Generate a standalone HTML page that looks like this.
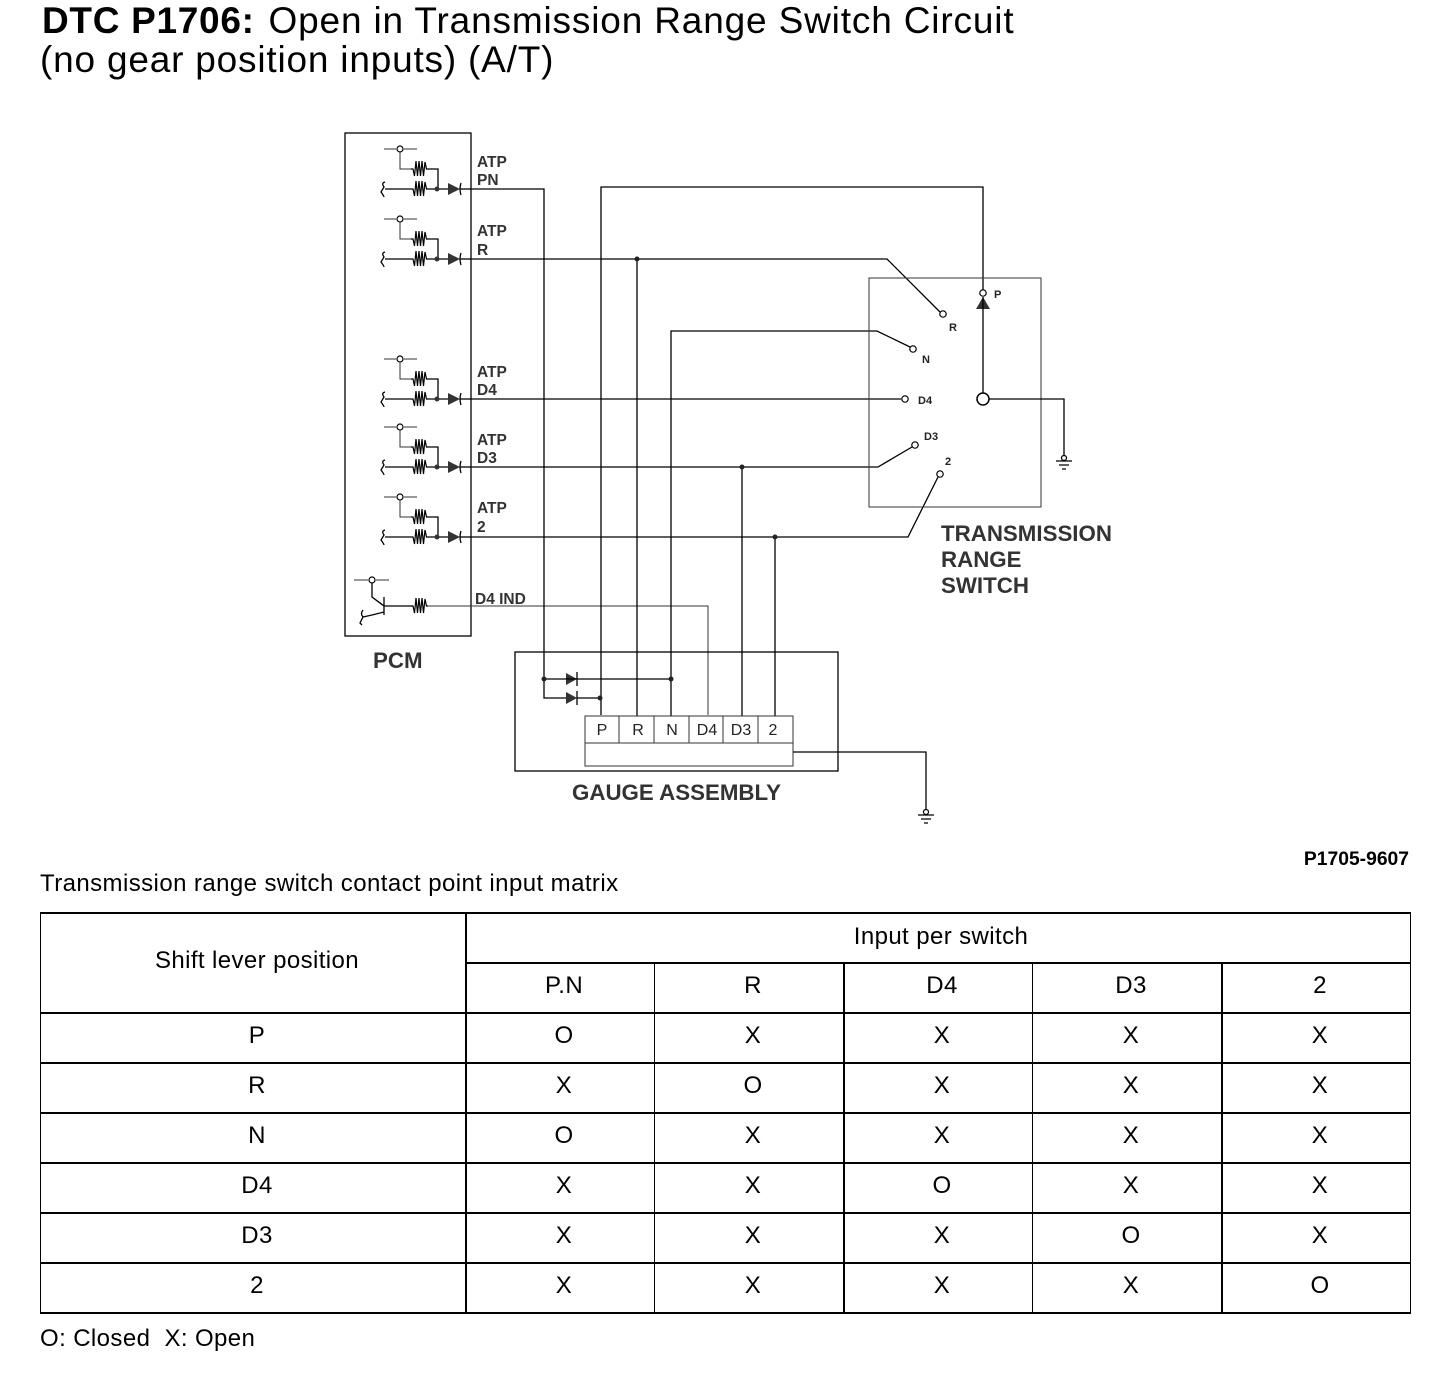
<!DOCTYPE html>
<html><head><meta charset="utf-8"><style>
html,body{margin:0;padding:0;background:#fff}
svg{display:block}
text{font-family:"Liberation Sans",Arial,sans-serif;fill:#000}
.l{stroke:#000;stroke-width:1.3;fill:none}
.t{stroke:#333;stroke-width:1;fill:none}
.lb{font-size:15.5px;font-weight:bold;fill:#333}
.big{font-size:22.3px;font-weight:bold;fill:#333}
.sm{font-size:11px;font-weight:bold;fill:#222}
.c{font-size:16px;fill:#222;text-anchor:middle}
.m{font-size:24px;text-anchor:middle;letter-spacing:.4px}
.ti{font-size:37px}
</style></head><body>
<svg width="1456" height="1384" viewBox="0 0 1456 1384" xmlns="http://www.w3.org/2000/svg">
<defs>
<g id="res"><path d="M0 0 L2 0 L3.5 7 L5 -8 L6.5 7 L8 -8 L9.5 7 L11 -8 L12.5 7 L14 -7 L15.5 0 L17 0" fill="none" stroke="#000" stroke-width="1.2"/></g>
<g id="in">
<path class="t" d="M384 -40H396M404 -40H417"/>
<circle cx="400" cy="-40" r="3" fill="#fff" stroke="#000" stroke-width="1.2"/>
<path class="t" d="M400 -37V-20H411"/>
<use href="#res" x="411" y="-20"/>
<path class="l" d="M428 -20H438V0"/>
<path class="l" d="M385 0H411"/>
<path class="l" d="M385 -7Q381 -6 384 -2L381 3Q384 7 384 8"/>
<use href="#res" x="411" y="0"/>
<path class="l" d="M428 0H448"/>
<circle cx="437" cy="0" r="2.5" fill="#333"/>
<path d="M448 -6L460 0L448 6Z" fill="#333"/>
<path class="l" d="M461 -6Q459 0 461 6"/>
<path class="l" d="M460 0H471"/>
</g>
<g id="gnd"><circle cx="0" cy="0" r="2.5" fill="#fff" stroke="#000" stroke-width="1.2"/><path class="l" d="M-8 3H8M-5 7H5M-2 11H2"/></g>
</defs>

<text class="ti" x="42" y="33" font-weight="bold" letter-spacing=".7">DTC P1706:</text>
<text class="ti" x="268.500" y="33" letter-spacing=".84">Open in Transmission Range Switch Circuit</text>
<text class="ti" x="40" y="72" letter-spacing=".8">(no gear position inputs) (A/T)</text>

<rect class="l" x="345" y="133" width="126" height="503"/>
<use href="#in" y="189"/><use href="#in" y="259"/><use href="#in" y="399"/><use href="#in" y="467"/><use href="#in" y="537"/>

<!-- transistor -->
<path class="t" d="M354 580H368M376 580H389"/>
<circle cx="372" cy="580" r="3" fill="#fff" stroke="#000" stroke-width="1.2"/>
<path class="l" d="M372 583V597L384 606M384 597V615M384 612L372 615L363 617M363 610Q360 614 363 617L360 623Q362 625 362 625"/>
<path class="l" d="M384 606H412"/>
<use href="#res" x="411" y="606"/>
<path class="t" d="M428 606H708V715"/>

<!-- wires -->
<path class="l" d="M471 189H544V698H566"/>
<path class="l" d="M601 715V187H983V290"/>
<path class="l" d="M471 259H887L940 312"/>
<path class="l" d="M637 259V716"/>
<path class="l" d="M671 716V331H877L910 347"/>
<path class="l" d="M471 399H901"/>
<path class="l" d="M471 467H878L912 447"/>
<path class="l" d="M742 467V716"/>
<path class="l" d="M471 537H908L938 477"/>
<path class="l" d="M775 537V716"/>
<circle cx="637" cy="259" r="2.5" fill="#222"/>
<circle cx="742" cy="467" r="2.5" fill="#222"/>
<circle cx="775" cy="537" r="2.5" fill="#222"/>

<!-- switch -->
<rect class="t" x="869" y="278" width="172" height="229"/>
<circle cx="983" cy="293" r="3.2" fill="#fff" stroke="#000" stroke-width="1.2"/>
<path d="M983 297L990 309H976Z" fill="#333"/>
<path class="l" d="M983 297V393"/>
<circle cx="983" cy="399" r="6" fill="#fff" stroke="#000" stroke-width="1.5"/>
<path class="l" d="M989 399H1064V455"/>
<use href="#gnd" x="1064" y="458"/>
<circle cx="943" cy="314" r="3.2" fill="#fff" stroke="#000" stroke-width="1.2"/>
<circle cx="913" cy="349" r="3.2" fill="#fff" stroke="#000" stroke-width="1.2"/>
<circle cx="905" cy="399" r="3.2" fill="#fff" stroke="#000" stroke-width="1.2"/>
<circle cx="915" cy="445" r="3.2" fill="#fff" stroke="#000" stroke-width="1.2"/>
<circle cx="940" cy="474" r="3.2" fill="#fff" stroke="#000" stroke-width="1.2"/>
<text class="sm" x="994" y="298">P</text>
<text class="sm" x="949" y="331">R</text>
<text class="sm" x="922" y="363">N</text>
<text class="sm" x="918" y="404">D4</text>
<text class="sm" x="924" y="440">D3</text>
<text class="sm" x="945" y="465">2</text>

<!-- gauge -->
<rect class="l" x="515" y="652" width="323" height="119"/>
<path d="M566 673L577 679L566 685Z" fill="#333"/><path class="l" d="M577 672V686"/>
<path d="M566 692L577 698L566 704Z" fill="#333"/><path class="l" d="M577 691V705"/>
<path class="l" d="M544 679H671M577 698H600"/>
<circle cx="544" cy="679" r="2.5" fill="#222"/>
<circle cx="671" cy="679" r="2.5" fill="#222"/>
<circle cx="600" cy="698" r="2.5" fill="#222"/>
<rect class="t" x="585" y="716" width="208" height="50" fill="#fff"/>
<path class="t" d="M585 743H793M619 716V743M654 716V743M689 716V743M723 716V743M758 716V743"/>
<text class="c" x="602" y="735">P</text><text class="c" x="638" y="735">R</text><text class="c" x="672" y="735">N</text><text class="c" x="707" y="735">D4</text><text class="c" x="741" y="735">D3</text><text class="c" x="773" y="735">2</text>
<path class="l" d="M793 752H926V809"/>
<use href="#gnd" x="926" y="812"/>

<!-- labels -->
<text class="lb" x="477" y="167">ATP</text><text class="lb" x="477" y="185">PN</text>
<text class="lb" x="477" y="236">ATP</text><text class="lb" x="477" y="255">R</text>
<text class="lb" x="477" y="377">ATP</text><text class="lb" x="477" y="395">D4</text>
<text class="lb" x="477" y="445">ATP</text><text class="lb" x="477" y="463">D3</text>
<text class="lb" x="477" y="513">ATP</text><text class="lb" x="477" y="532">2</text>
<text class="lb" x="475" y="604">D4 IND</text>
<text class="big" x="373" y="668">PCM</text>
<text class="big" x="572" y="800">GAUGE ASSEMBLY</text>
<text class="big" x="941" y="541">TRANSMISSION</text>
<text class="big" x="941" y="567">RANGE</text>
<text class="big" x="941" y="593">SWITCH</text>
<text x="1409" y="865" font-size="19.300" font-weight="bold" text-anchor="end" fill="#222">P1705-9607</text>

<!-- table -->
<text x="40" y="891" font-size="24" letter-spacing=".42">Transmission range switch contact point input matrix</text>
<path stroke="#000" stroke-width="2" fill="none" d="M40 913H1411M466 963H1411M40 1013H1411M40 1063H1411M40 1113H1411M40 1163H1411M40 1213H1411M40 1263H1411M40 1313H1411M466 912V1314M844 963V1314M1222 963V1314"/>
<path stroke="#000" stroke-width="1" fill="none" d="M40.500 912V1314M1410.500 912V1314M654.500 963V1314M1032.500 963V1314"/>
<text class="m" x="257" y="968">Shift lever position</text>
<text class="m" x="941" y="944">Input per switch</text>
<text class="m" x="564" y="993">P.N</text><text class="m" x="753" y="993">R</text><text class="m" x="942" y="993">D4</text><text class="m" x="1131" y="993">D3</text><text class="m" x="1320" y="993">2</text>

<text class="m" x="257" y="1043">P</text><text class="m" x="564" y="1043">O</text><text class="m" x="753" y="1043">X</text><text class="m" x="942" y="1043">X</text><text class="m" x="1131" y="1043">X</text><text class="m" x="1320" y="1043">X</text>
<text class="m" x="257" y="1093">R</text><text class="m" x="564" y="1093">X</text><text class="m" x="753" y="1093">O</text><text class="m" x="942" y="1093">X</text><text class="m" x="1131" y="1093">X</text><text class="m" x="1320" y="1093">X</text>
<text class="m" x="257" y="1143">N</text><text class="m" x="564" y="1143">O</text><text class="m" x="753" y="1143">X</text><text class="m" x="942" y="1143">X</text><text class="m" x="1131" y="1143">X</text><text class="m" x="1320" y="1143">X</text>
<text class="m" x="257" y="1193">D4</text><text class="m" x="564" y="1193">X</text><text class="m" x="753" y="1193">X</text><text class="m" x="942" y="1193">O</text><text class="m" x="1131" y="1193">X</text><text class="m" x="1320" y="1193">X</text>
<text class="m" x="257" y="1243">D3</text><text class="m" x="564" y="1243">X</text><text class="m" x="753" y="1243">X</text><text class="m" x="942" y="1243">X</text><text class="m" x="1131" y="1243">O</text><text class="m" x="1320" y="1243">X</text>
<text class="m" x="257" y="1293">2</text><text class="m" x="564" y="1293">X</text><text class="m" x="753" y="1293">X</text><text class="m" x="942" y="1293">X</text><text class="m" x="1131" y="1293">X</text><text class="m" x="1320" y="1293">O</text>
<text x="40" y="1346" font-size="24" letter-spacing=".4">O: Closed&#160; X: Open</text>
</svg>
</body></html>
